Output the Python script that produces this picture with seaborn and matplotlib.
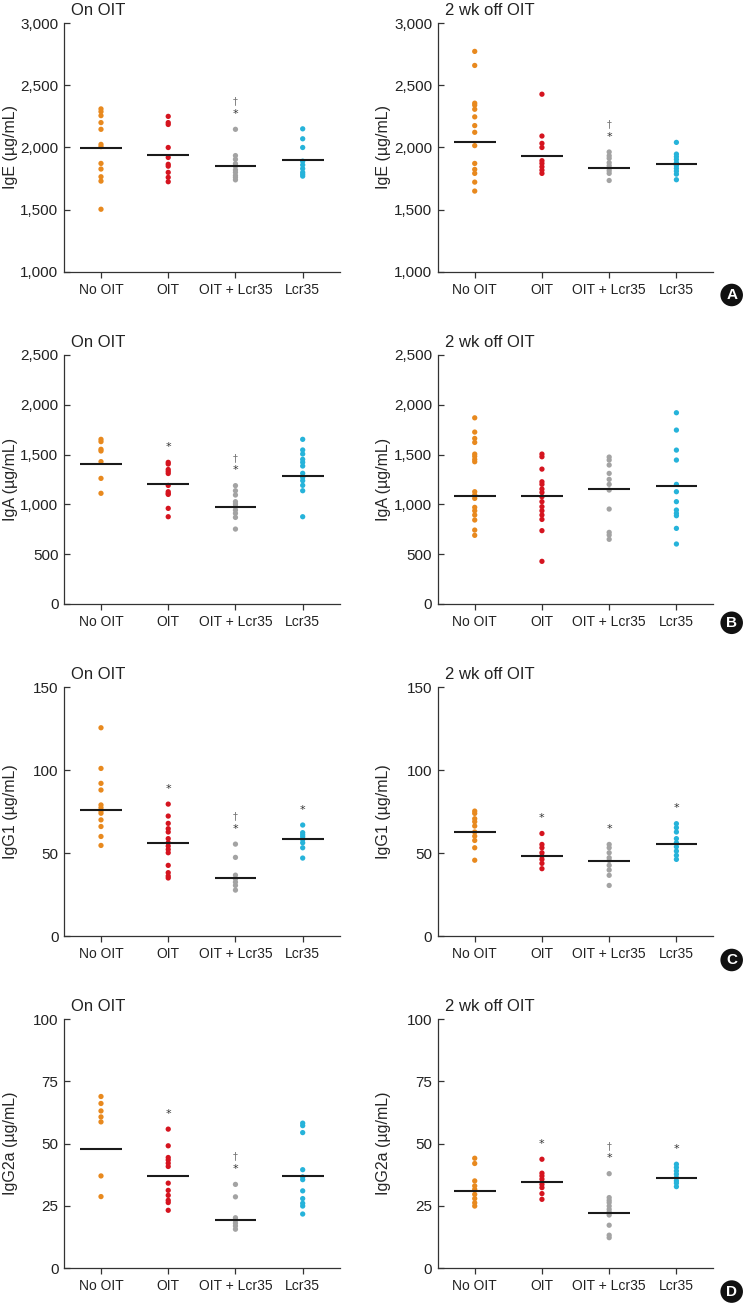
import numpy as np
import pandas as pd
import matplotlib
matplotlib.use("Agg")
import matplotlib.pyplot as plt
from matplotlib.ticker import FuncFormatter
import seaborn as sns

# ============================================
# DATA
# ============================================
groups = ["No OIT", "OIT", "OIT + Lcr35", "Lcr35"]
colors = ["#E8891E", "#D5141F", "#A3A3A3", "#26B3DA"]

# A - IgE
ige_on = [
    [2310, 2288, 2256, 2200, 2146, 2025, 2007, 1872, 1827, 1765, 1730, 1504],
    [2250, 2200, 2185, 2000, 1920, 1865, 1850, 1800, 1760, 1725],
    [2146, 1935, 1905, 1870, 1850, 1820, 1800, 1775, 1760, 1740],
    [2150, 2070, 2000, 1890, 1860, 1830, 1800, 1785, 1770],
]
ige_on_mean = [1996, 1939, 1848, 1899]
ige_on_marks = ["", "", "†*", ""]

ige_off = [
    [2772, 2659, 2356, 2340, 2307, 2246, 2176, 2122, 2015, 1872, 1824, 1792, 1722, 1650],
    [2428, 2092, 2033, 2000, 1894, 1872, 1845, 1818, 1792],
    [1964, 1934, 1913, 1878, 1854, 1832, 1813, 1792, 1735],
    [2041, 1947, 1926, 1904, 1878, 1854, 1832, 1810, 1786, 1741],
]
ige_off_mean = [2044, 1929, 1837, 1867]
ige_off_marks = ["", "", "†*", ""]

# B - IgA
iga_on = [
    [1653, 1630, 1553, 1536, 1429, 1261, 1111],
    [1422, 1405, 1350, 1330, 1310, 1190, 1127, 1110, 1100, 960, 876],
    [1188, 1137, 1094, 1027, 1003, 977, 943, 910, 869, 752],
    [1653, 1546, 1506, 1452, 1422, 1385, 1312, 1271, 1238, 1191, 1137, 876],
]
iga_on_mean = [1405, 1201, 970, 1285]
iga_on_marks = ["", "*", "†*", ""]

iga_off = [
    [1869, 1726, 1662, 1622, 1505, 1482, 1451, 1428, 1127, 1094, 1060, 970, 936, 893, 843, 742, 689],
    [1505, 1478, 1354, 1227, 1201, 1154, 1120, 1077, 1027, 977, 936, 893, 849, 736, 428],
    [1475, 1445, 1395, 1311, 1251, 1201, 1144, 953, 719, 692, 649],
    [1920, 1746, 1545, 1445, 1201, 1127, 1027, 943, 910, 886, 759, 602],
]
iga_off_mean = [1080, 1080, 1150, 1187]
iga_off_marks = ["", "", "", ""]

# C - IgG1
igg1_on = [
    [125.5, 101, 92, 88, 79, 77.3, 75.5, 74, 70, 66, 60, 54.6],
    [79.5, 72.3, 67.9, 64.7, 62.7, 58.7, 56.2, 54.2, 52.2, 50.2, 42.6, 38.2, 36.2, 35],
    [55.4, 47.4, 36.7, 34.5, 32.5, 30.5, 27.7],
    [66.9, 62.3, 61, 59.8, 58.2, 56.2, 53.2, 47],
]
igg1_on_mean = [75.7, 55.8, 35.1, 58.6]
igg1_on_marks = ["", "*", "†*", "*"]

igg1_off = [
    [75.3, 73.9, 70.7, 68.9, 66.3, 62.7, 60.2, 57.6, 53.2, 45.7],
    [61.8, 55.2, 53.2, 50.2, 48.2, 46.2, 43.8, 40.6],
    [55.2, 53.2, 50.2, 47.2, 45.6, 42.6, 39.8, 36.6, 30.5],
    [67.7, 65.3, 62.7, 58.7, 56.2, 53.8, 51.2, 48.6, 46.2],
]
igg1_off_mean = [62.9, 48.2, 45.4, 55.2]
igg1_off_marks = ["", "*", "*", "*"]

# D - IgG2a
igg2a_on = [
    [68.9, 66.1, 63.1, 60.7, 58.7, 37, 28.7],
    [55.8, 49.1, 44.4, 43.4, 42.1, 40.8, 34.1, 31.2, 29.2, 27.2, 26.3, 23.2],
    [33.6, 28.6, 20.2, 19.2, 18, 16.9, 15.6],
    [58.2, 57.2, 54.4, 39.5, 36.6, 35.5, 31, 27.9, 26, 24.9, 21.7],
]
igg2a_on_mean = [47.7, 37.1, 19.4, 37.1]
igg2a_on_marks = ["", "*", "†*", ""]

igg2a_off = [
    [44.1, 42, 35, 33, 31.6, 29.6, 27.9, 26.2, 24.9],
    [43.7, 38.1, 37, 35.7, 33.6, 32.3, 29.9, 27.6],
    [37.9, 28.3, 27.2, 26.3, 24.9, 23.6, 22.5, 21.3, 17.2, 13.2, 12.2],
    [41.7, 40.4, 39, 37.7, 36.3, 35, 34.1, 32.7],
]
igg2a_off_mean = [31.0, 34.6, 22.3, 36.3]
igg2a_off_marks = ["", "*", "†*", "*"]

rows = [
    ("IgE (µg/mL)", (1000, 3000), [1000, 1500, 2000, 2500, 3000], "A",
     (ige_on, ige_on_mean, ige_on_marks), (ige_off, ige_off_mean, ige_off_marks)),
    ("IgA (µg/mL)", (0, 2500), [0, 500, 1000, 1500, 2000, 2500], "B",
     (iga_on, iga_on_mean, iga_on_marks), (iga_off, iga_off_mean, iga_off_marks)),
    ("IgG1 (µg/mL)", (0, 150), [0, 50, 100, 150], "C",
     (igg1_on, igg1_on_mean, igg1_on_marks), (igg1_off, igg1_off_mean, igg1_off_marks)),
    ("IgG2a (µg/mL)", (0, 100), [0, 25, 50, 75, 100], "D",
     (igg2a_on, igg2a_on_mean, igg2a_on_marks), (igg2a_off, igg2a_off_mean, igg2a_off_marks)),
]

# ============================================
# STYLE
# ============================================
sns.set_style("ticks")
plt.rcParams["font.family"] = ["Liberation Sans", "DejaVu Sans"]
axis_col = "#333333"

fig = plt.figure(figsize=(7.47, 13.07), dpi=100)

bottoms = [0.7919, 0.5379, 0.2838, 0.0298]
lefts = [0.0857, 0.586]
width, height = 0.369, 0.1905
label_y = [0.7743, 0.5235, 0.2655, 0.0118]


def draw_panel(ax, values, means, marks, ylabel, ylim, yticks, title):
    df = pd.DataFrame({
        "group": [g for g, v in zip(groups, values) for _ in v],
        "value": [x for v in values for x in v],
    })
    sns.stripplot(data=df, x="group", y="value", hue="group", order=groups,
                  hue_order=groups, palette=colors, jitter=False, size=3.8,
                  linewidth=0, legend=False, ax=ax, zorder=2)
    xs = np.arange(len(groups))
    ax.hlines(means, xs - 0.31, xs + 0.31, color="#1a1a1a", lw=1.5, zorder=3)

    # significance marks above the highest point of a group
    span = ylim[1] - ylim[0]
    for i, (mk, v) in enumerate(zip(marks, values)):
        if not mk:
            continue
        y_star = max(v) + span * 0.062
        if "*" in mk:
            ax.text(i, y_star, "*", ha="center", va="center", fontsize=8,
                    color="#333333", family=["DejaVu Sans"])
        if "†" in mk:
            ax.text(i, y_star + span * 0.05, "†", ha="center", va="center",
                    fontsize=7, color="#777777", family=["DejaVu Sans"])

    ax.set_xlim(-0.55, 3.55)
    ax.set_ylim(*ylim)
    ax.set_yticks(yticks)
    ax.yaxis.set_major_formatter(FuncFormatter(lambda v, p: f"{v:,.0f}"))
    ax.set_xlabel("")
    ax.set_ylabel(ylabel, fontsize=11.5)
    ax.yaxis.set_label_coords(-0.168, 0.5)
    sns.despine(ax=ax)
    for s in ["left", "bottom"]:
        ax.spines[s].set_color(axis_col)
        ax.spines[s].set_linewidth(0.9)
    ax.tick_params(axis="y", direction="in", length=4, width=0.9,
                   colors=axis_col, labelcolor="#222222", labelsize=11, pad=4)
    ax.tick_params(axis="x", direction="out", length=4, width=0.9,
                   colors=axis_col, labelcolor="#222222", labelsize=10, pad=4)
    ax.text(0.025, 1.032, title, transform=ax.transAxes, ha="left",
            va="baseline", fontsize=12, color="#222222")


for r, (ylabel, ylim, yticks, letter, on, off) in enumerate(rows):
    ax_l = fig.add_axes([lefts[0], bottoms[r], width, height])
    ax_r = fig.add_axes([lefts[1], bottoms[r], width, height])
    draw_panel(ax_l, *on, ylabel, ylim, yticks, "On OIT")
    draw_panel(ax_r, *off, ylabel, ylim, yticks, "2 wk off OIT")
    fig.text(0.9795, label_y[r], letter, ha="center", va="center",
             color="white", fontsize=11, fontweight="bold",
             bbox=dict(boxstyle="circle,pad=0.28", fc="#111111", ec="none"))

plt.savefig("out.png", dpi=100)
